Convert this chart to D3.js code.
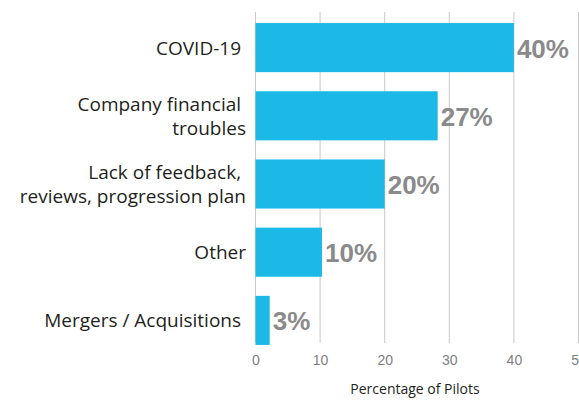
<!DOCTYPE html>
<html>
<head>
<meta charset="utf-8">
<script src="https://cdn.jsdelivr.net/npm/d3@7"></script>
<style>
body { margin: 0; background: #fff; }
svg { display: block; }
.cat { font-family: "Open Sans", sans-serif; font-size: 19px; fill: #231f20; white-space: pre; }
.tick text { font-family: "Liberation Sans", Arial, sans-serif; font-size: 14px; fill: #808080; }
.val { font-family: "Liberation Sans", Arial, sans-serif; font-weight: bold; font-size: 26px; fill: #8a8a8a; }
</style>
</head>
<body>
<div id="chart"></div>
<script>
// values
var categories = [
  ["COVID-19 "],
  ["Company financial ", "troubles"],
  ["Lack of feedback, ", "reviews, progression plan"],
  ["Other"],
  ["Mergers / Acquisitions "]
];
var values = [40, 28.2, 20, 10.3, 2.2];
var valueLabels = ["40%", "27%", "20%", "10%", "3%"];
var ticks = [0, 10, 20, 30, 40, 50];

var W = 579, H = 401;
var svg = d3.select("#chart").append("svg").attr("width", W).attr("height", H);

var x = d3.scaleLinear().domain([0, 50]).range([255.5, 578.5]);
var y = d3.scaleBand().domain(d3.range(categories.length)).range([6, 362]).paddingInner(0.28).paddingOuter(0.25);

// gridlines
svg.append("g").selectAll("line").data(ticks).enter().append("line")
  .attr("x1", function(d){ return x(d); })
  .attr("x2", function(d){ return x(d); })
  .attr("y1", 12).attr("y2", 343)
  .attr("stroke", "#c8c8c8").attr("stroke-width", 1);

// x axis labels
var axis = d3.axisBottom(x).tickValues(ticks).tickSize(0).tickPadding(0).tickFormat(d3.format("d"));
svg.append("g").attr("transform", "translate(0,355)").call(axis)
  .call(function(g){ g.select(".domain").remove(); });

svg.append("text")
  .attr("x", 415).attr("y", 394)
  .attr("text-anchor", "middle")
  .style("font-family", "'Open Sans', sans-serif").style("font-size", "14px").style("fill", "#231f20")
  .text("Percentage of Pilots");

// bars
svg.append("g").selectAll("rect").data(values).enter().append("rect")
  .attr("x", x(0))
  .attr("y", function(d, i){ return y(i); })
  .attr("width", function(d){ return x(d) - x(0); })
  .attr("height", y.bandwidth())
  .attr("fill", "#1cb9e6");

// value labels
svg.append("g").selectAll("text").data(values).enter().append("text")
  .attr("class", "val")
  .attr("x", function(d){ return x(d) + 3; })
  .attr("y", function(d, i){ return y(i) + y.bandwidth() / 2 + 10; })
  .text(function(d, i){ return valueLabels[i]; });

// category labels
var cat = svg.append("g").selectAll("text").data(categories).enter().append("text")
  .attr("class", "cat")
  .attr("text-anchor", "end")
  .attr("x", 246)
  .attr("y", function(d, i){ return y(i) + y.bandwidth() / 2 + 7 - (d.length - 1) * 12; });
cat.selectAll("tspan").data(function(d){ return d; }).enter().append("tspan")
  .attr("x", 246)
  .attr("dy", function(d, i){ return i ? 24 : 0; })
  .text(function(d){ return d; });
</script>
</body>
</html>
